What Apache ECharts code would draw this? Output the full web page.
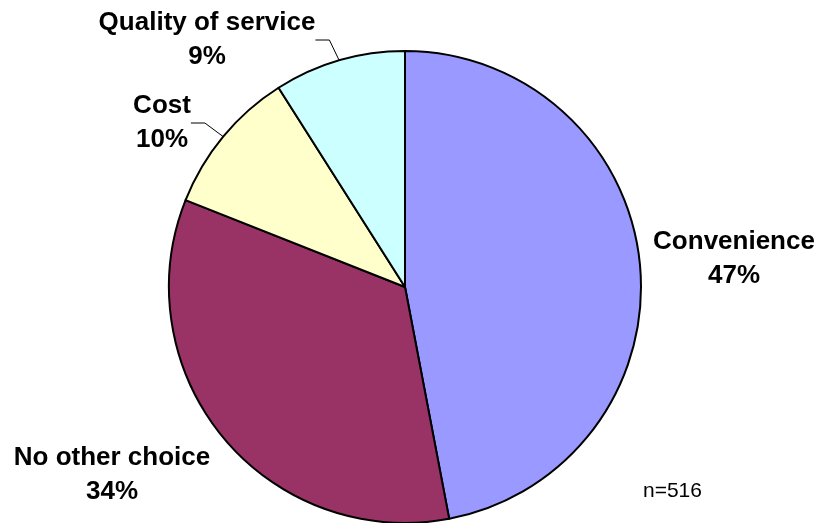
<!DOCTYPE html>
<html>
<head>
<meta charset="utf-8">
<script src="https://cdn.jsdelivr.net/npm/echarts@6/dist/echarts.min.js"></script>
<style>html,body{margin:0;padding:0;background:#fff;}#c{width:821px;height:523px;}</style>
</head>
<body>
<div id="c"></div>
<script>
const categories = ['Convenience', 'No other choice', 'Cost', 'Quality of service'];
const values = [47, 34, 10, 9];
const colors = ['#9999FF', '#993366', '#FFFFCC', '#CCFFFF'];
const note = 'n=516';

const labelPos = [
  {x: 734, y: 259, line: false},
  {x: 112, y: 475, line: false},
  {x: 162, y: 123, line: true},
  {x: 207, y: 40, line: true}
];

const chart = echarts.init(document.getElementById('c'), null, {renderer: 'canvas'});
chart.setOption({
  backgroundColor: '#ffffff',
  animation: false,
  graphic: [{
    type: 'text', left: 643, top: 481,
    style: {text: note, fontFamily: 'Liberation Sans, Arial, sans-serif', fontSize: 21, fill: '#000'}
  }],
  series: [{
    type: 'pie',
    center: [405, 287],
    radius: 236,
    startAngle: 90,
    clockwise: true,
    avoidLabelOverlap: false,
    itemStyle: {borderColor: '#000', borderWidth: 2},
    label: {
      show: true,
      position: 'outside',
      formatter: '{b}\n{c}%',
      fontFamily: 'Liberation Sans, Arial, sans-serif',
      fontWeight: 'bold',
      fontSize: 26,
      lineHeight: 34,
      color: '#000',
      align: 'center'
    },
    labelLine: {show: true, length: 18, length2: 14, lineStyle: {color: '#000', width: 1}},
    labelLayout: function (p) {
      const lp = labelPos[p.dataIndex];
      return {x: lp.x, y: lp.y, align: 'center', verticalAlign: 'middle'};
    },
    emphasis: {disabled: true},
    data: categories.map((c, i) => ({
      name: c, value: values[i],
      itemStyle: {color: colors[i]},
      labelLine: {show: labelPos[i].line}
    }))
  }]
});
</script>
</body>
</html>
